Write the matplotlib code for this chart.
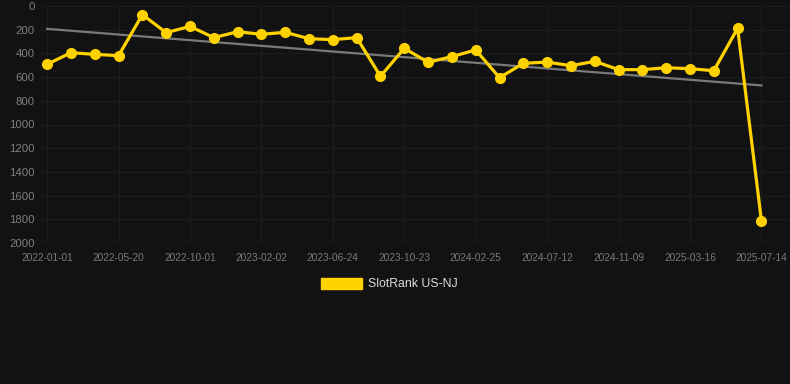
import numpy as np
import matplotlib.pyplot as plt
from matplotlib.patches import Patch

series_name = "SlotRank US-NJ"
tick_labels = ["2022-01-01", "2022-05-20", "2022-10-01", "2023-02-02", "2023-06-24",
               "2023-10-23", "2024-02-25", "2024-07-12", "2024-11-09", "2025-03-16",
               "2025-07-14"]
rank = [492, 394, 408, 419, 73, 225, 172, 267, 217, 239,
        222, 276, 284, 267, 593, 357, 475, 427, 371, 605,
        484, 473, 504, 467, 537, 537, 521, 529, 546, 188,
        1812]

bg = "#121212"
gold = "#FFD200"

fig = plt.figure(figsize=(7.9, 3.84), dpi=100, facecolor=bg)
ax = fig.add_axes([40 / 790, 1 - 243 / 384, 750 / 790, 237 / 384])
ax.set_facecolor(bg)

x = np.arange(len(rank))
# linear trend over the series
k, b = np.polyfit(x, rank, 1)
ax.plot(x, k * x + b, color="#7a7a7a", lw=1.6, zorder=2)

ax.plot(x, rank, color=gold, lw=2.3, marker="o", ms=7, zorder=3)

ax.set_ylim(2000, 0)
ax.set_yticks(np.arange(0, 2001, 200))
ax.set_xlim(-0.3, 31.2)
ax.set_xticks(x[::3])
ax.set_xticklabels(tick_labels)

ax.grid(True, color="#1d1d1d", lw=0.8, zorder=0)
for s in ax.spines.values():
    s.set_visible(False)
ax.axhline(2000, color="#2e2e2e", lw=1, zorder=1)
ax.tick_params(axis="y", length=0, pad=4, labelsize=8.2, labelcolor="#808080")
ax.tick_params(axis="x", length=0, pad=7, labelsize=7.3, labelcolor="#7a7a7a")
for t in ax.get_yticklabels() + ax.get_xticklabels():
    t.set_fontfamily("Liberation Sans")

handle = Patch(facecolor=gold, edgecolor=gold, label=series_name)
leg = fig.legend(handles=[handle], loc="center", bbox_to_anchor=(0.493, 1 - 284 / 384),
                 frameon=False, handlelength=3.3, handleheight=1.0, handletextpad=0.5,
                 prop={"family": "Liberation Sans", "size": 8.8})
for t in leg.get_texts():
    t.set_color("#dddddd")

fig.savefig("out.png", dpi=100, facecolor=bg)
